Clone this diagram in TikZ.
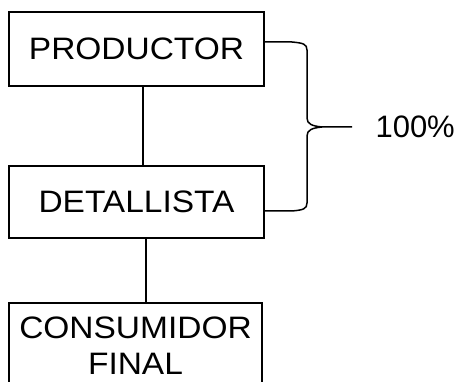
\documentclass[tikz,border=0pt]{standalone}
\usepackage{fontspec}
\setmainfont[FakeStretch=1.08]{Liberation Sans}
\newfontfamily\plainsans{Liberation Sans}
\begin{document}
\begin{tikzpicture}[x=1pt,y=-1pt,
  box/.style={draw,line width=1.6pt,inner sep=0pt,align=center,
    font=\fontsize{31}{36}\selectfont},
  conn/.style={line width=1.5pt},
  brace/.style={line width=1.5pt,line join=round}]
\useasboundingbox (0,0) rectangle (464,382);
\clip (0,0) rectangle (464,382);
\node[box,minimum width=255pt,minimum height=74pt] (p) at (136.5,49) {PRODUCTOR};
\node[box,minimum width=255pt,minimum height=72pt] (d) at (136.5,202) {DETALLISTA};
\node[box,minimum width=253pt,minimum height=86pt] (c) at (135.5,346) {CONSUMIDOR\\FINAL};
\draw[conn] (p.south -| 143,0) -- (d.north -| 143,0);
\draw[conn] (d.south -| 146,0) -- (c.north -| 146,0);
\coordinate (bt) at (264,42);
\coordinate (bb) at (264,211);
\coordinate (tip) at (352,127);
\node[font=\plainsans\fontsize{31}{38}\selectfont,anchor=west] (pct) at (372,127) {100\%};
\draw[brace] (bt) -- (292,42) .. controls (303,43) and (307,44) .. (307,50)
  -- (307,118) .. controls (307,124) and (312,126) .. (322,127) -- (tip);
\draw[brace] (bb) -- (292,211) .. controls (303,210) and (307,209) .. (307,203)
  -- (307,136) .. controls (307,130) and (312,128) .. (322,127);
\end{tikzpicture}
\end{document}
